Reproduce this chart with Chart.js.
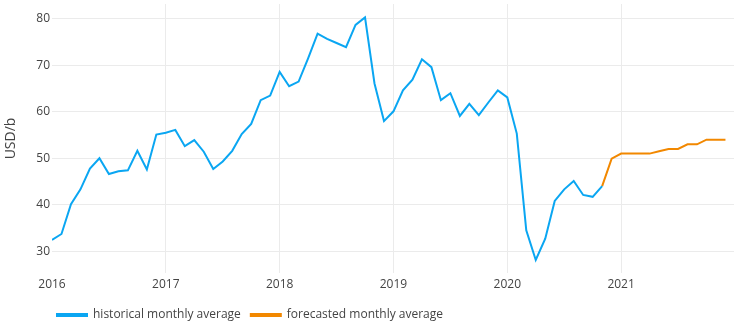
<!DOCTYPE html>
<html>
<head>
<meta charset="utf-8">
<script src="https://cdn.jsdelivr.net/npm/chart.js@4"></script>
<style>
  html, body { margin: 0; padding: 0; background: #fff; }
  #wrap { width: 737px; height: 324px; }
</style>
</head>
<body>
<div id="wrap"><canvas id="priceChart"></canvas></div>
<script>
// Year tick labels (one per January, month index 0, 12, 24 ...)
const YEARS = ['2016', '2017', '2018', '2019', '2020', '2021'];

// Monthly averages, Jan 2016 .. Nov 2020
const HISTORICAL = [
    32.4, 33.7, 40.1, 43.3, 47.8, 50.0, 46.6, 47.2, 47.4, 51.6, 47.6, 55.1,
    55.5, 56.1, 52.6, 53.9, 51.4, 47.7, 49.3, 51.6, 55.2, 57.4, 62.5, 63.5,
    68.6, 65.5, 66.5, 71.5, 76.8, 75.7, 74.8, 73.9, 78.7, 80.3, 66.1, 58.0,
    60.1, 64.6, 66.9, 71.3, 69.6, 62.5, 64.0, 59.1, 61.7, 59.3, 62.0, 64.6,
    63.1, 55.3, 34.5, 28.1, 32.7, 40.8, 43.3, 45.1, 42.1, 41.7, 44.0
];

// Forecast, Nov 2020 .. Dec 2021
const FORECAST = [44.0, 49.9, 51, 51, 51, 51, 51.5, 52, 52, 53, 53, 54, 54, 54];
const FORECAST_START = 58; // month index of Nov 2020

const Y_TICKS = [30, 40, 50, 60, 70, 80];

const histPoints = HISTORICAL.map((v, i) => ({ x: i, y: v }));
const forePoints = FORECAST.map((v, i) => ({ x: FORECAST_START + i, y: v }));

Chart.defaults.font.family = "'Open Sans', sans-serif";
Chart.defaults.font.size = 12;
Chart.defaults.color = '#444';

// move the legend to where the reference has it
const legendShift = {
    id: 'legendShift',
    afterLayout(chart) {
        chart.legend.left += 47;
        chart.legend.top += 7;
    }
};

const ctx = document.getElementById('priceChart').getContext('2d');
const priceChart = new Chart(ctx, {
    type: 'line',
    data: {
        datasets: [{
            label: 'historical monthly average',
            data: histPoints,
            borderColor: '#0aa6f2',
            backgroundColor: '#0aa6f2',
            borderWidth: 2,
            pointRadius: 0,
            tension: 0,
            fill: false
        }, {
            label: 'forecasted monthly average',
            data: forePoints,
            borderColor: '#f28800',
            backgroundColor: '#f28800',
            borderWidth: 2,
            pointRadius: 0,
            tension: 0,
            fill: false
        }]
    },
    options: {
        responsive: true,
        maintainAspectRatio: false,
        animation: false,
        layout: {
            padding: { top: 4, right: 3, bottom: 0, left: 0 }
        },
        plugins: {
            tooltip: { enabled: false },
            legend: {
                position: 'bottom',
                align: 'start',
                labels: {
                    boxWidth: 30,
                    boxHeight: 2,
                    padding: 10,
                    color: '#444',
                    font: { size: 12 }
                }
            }
        },
        scales: {
            x: {
                type: 'linear',
                min: 0,
                max: 71.9,
                border: { display: false },
                grid: {
                    drawTicks: false,
                    color: c => (c.tick && c.tick.value > 0) ? '#ebebeb' : 'rgba(0,0,0,0)'
                },
                ticks: {
                    autoSkip: false,
                    maxRotation: 0,
                    padding: 4,
                    callback: v => YEARS[Math.round(v / 12)]
                },
                afterBuildTicks(scale) {
                    scale.ticks = YEARS.map((y, i) => ({ value: i * 12 }));
                },
                afterFit(scale) { scale.height = 19; }
            },
            y: {
                min: 25.3,
                max: 83.2,
                border: { display: false },
                grid: { drawTicks: false, color: '#ebebeb' },
                ticks: { padding: 2 },
                afterBuildTicks(scale) {
                    scale.ticks = Y_TICKS.map(v => ({ value: v }));
                },
                title: {
                    display: true,
                    text: 'USD/b',
                    color: '#444',
                    font: { size: 14 },
                    padding: { top: 3, bottom: 2 }
                },
                afterFit(scale) {
                    scale.width = 52;
                    scale.paddingTop = 0;
                    scale.paddingBottom = 0;
                }
            }
        }
    },
    plugins: [legendShift]
});
</script>
</body>
</html>
